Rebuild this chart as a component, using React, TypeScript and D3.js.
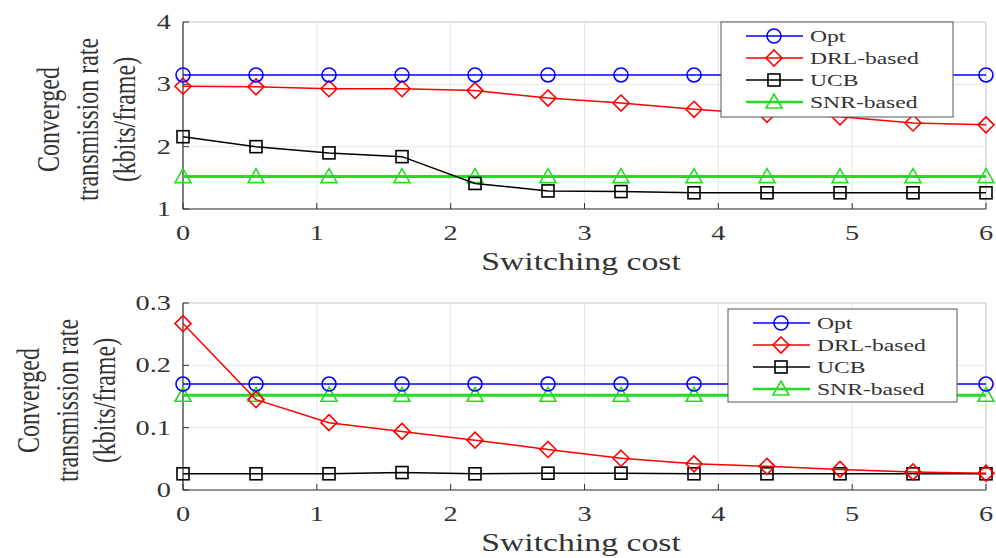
import React from "react";
import * as d3 from "d3";

const xs = d3.range(12).map((i) => (i * 6) / 11);
const seriesNames = ["Opt", "DRL-based", "UCB", "SNR-based"];
const colors = ["#0000ff", "#ff0000", "#000000", "#22dd22"];
const markers = ["circle", "diamond", "square", "triangle"];

const topOpt = [3.15, 3.15, 3.15, 3.15, 3.15, 3.15, 3.15, 3.15, 3.15, 3.15, 3.15, 3.15];
const topDRL = [2.97, 2.96, 2.93, 2.93, 2.9, 2.78, 2.7, 2.6, 2.52, 2.48, 2.38, 2.35];
const topUCB = [2.16, 2.0, 1.9, 1.84, 1.41, 1.29, 1.28, 1.26, 1.26, 1.26, 1.26, 1.26];
const topSNR = [1.52, 1.52, 1.52, 1.52, 1.52, 1.52, 1.52, 1.52, 1.52, 1.52, 1.52, 1.52];

const botOpt = [0.17, 0.17, 0.17, 0.17, 0.17, 0.17, 0.17, 0.17, 0.17, 0.17, 0.17, 0.17];
const botDRL = [0.267, 0.145, 0.108, 0.094, 0.08, 0.065, 0.051, 0.042, 0.038, 0.033, 0.029, 0.027];
const botUCB = [0.026, 0.026, 0.026, 0.028, 0.026, 0.027, 0.027, 0.026, 0.026, 0.026, 0.026, 0.026];
const botSNR = [0.152, 0.152, 0.152, 0.152, 0.152, 0.152, 0.152, 0.152, 0.152, 0.152, 0.152, 0.152];

const xTicks = [0, 1, 2, 3, 4, 5, 6];
const topYTicks = [1, 2, 3, 4];
const botYTicks = [0, 0.1, 0.2, 0.3];

const FONT = "Liberation Serif, Times New Roman, serif";
const SX = 1.35;
const TXT = "#333";

function Marker({ type, x, y, color }: { type: string; x: number; y: number; color: string }) {
  const common = { fill: "none", stroke: color, strokeWidth: 1.6 };
  if (type === "circle") return <circle cx={x} cy={y} r={7} {...common} />;
  if (type === "diamond")
    return <path d={`M${x},${y - 8}L${x + 8},${y}L${x},${y + 8}L${x - 8},${y}Z`} {...common} />;
  if (type === "square") return <rect x={x - 6} y={y - 6} width={12} height={12} {...common} />;
  return <path d={`M${x},${y - 8}L${x + 8},${y + 6}L${x - 8},${y + 6}Z`} {...common} />;
}

function SText({
  x,
  y,
  size,
  anchor,
  children,
}: {
  x: number;
  y: number;
  size: number;
  anchor: string;
  children: React.ReactNode;
}) {
  return (
    <text
      transform={`translate(${x},${y}) scale(${SX},1)`}
      textAnchor={anchor}
      fontFamily={FONT}
      fontSize={size}
      fill={TXT}
    >
      {children}
    </text>
  );
}

function Panel({
  top,
  bottom,
  yDomain,
  yTicks,
  yFmt,
  data,
  legend,
  labelX,
}: {
  top: number;
  bottom: number;
  yDomain: [number, number];
  yTicks: number[];
  yFmt: (v: number) => string;
  data: number[][];
  legend: { x: number; y: number; w: number; h: number };
  labelX: number;
}) {
  const x = d3.scaleLinear().domain([0, 6]).range([183, 986]);
  const y = d3.scaleLinear().domain(yDomain).range([bottom, top]);
  const line = d3
    .line<number>()
    .x((_, i) => x(xs[i]))
    .y((d) => y(d));
  const order = [3, 2, 1, 0];
  const midY = (top + bottom) / 2 + 4;
  return (
    <g>
      {xTicks.map((t) => (
        <line key={"gx" + t} x1={x(t)} x2={x(t)} y1={top} y2={bottom} stroke="#e6e6e6" strokeWidth={1} />
      ))}
      {yTicks.map((t) => (
        <line key={"gy" + t} x1={183} x2={986} y1={y(t)} y2={y(t)} stroke="#e6e6e6" strokeWidth={1} />
      ))}
      <line x1={183} x2={986} y1={top} y2={top} stroke="#d0d0d0" />
      <line x1={986} x2={986} y1={top} y2={bottom} stroke="#d0d0d0" />
      <line x1={183} x2={986} y1={bottom} y2={bottom} stroke="#333" strokeWidth={1.2} />
      <line x1={183} x2={183} y1={top} y2={bottom} stroke="#333" strokeWidth={1.2} />
      {xTicks.map((t) => (
        <g key={"tx" + t}>
          <line x1={x(t)} x2={x(t)} y1={bottom} y2={bottom - 6} stroke="#333" />
          <SText x={x(t)} y={bottom + 31} size={21} anchor="middle">
            {t}
          </SText>
        </g>
      ))}
      {yTicks.map((t) => (
        <g key={"ty" + t}>
          <line x1={183} x2={189} y1={y(t)} y2={y(t)} stroke="#333" />
          <SText x={171} y={y(t) + 7} size={21} anchor="end">
            {yFmt(t)}
          </SText>
        </g>
      ))}
      {order.map((s) => (
        <g key={"s" + s}>
          <path d={line(data[s]) || ""} fill="none" stroke={colors[s]} strokeWidth={s === 3 ? 3 : 1.5} />
          {data[s].map((v, i) => (
            <Marker key={i} type={markers[s]} x={x(xs[i])} y={y(v)} color={colors[s]} />
          ))}
        </g>
      ))}
      <SText x={581} y={bottom + 61} size={25} anchor="middle">
        Switching cost
      </SText>
      <g
        transform={`translate(${labelX},${midY}) scale(${SX},1) rotate(-90)`}
        fontFamily={FONT}
        fontSize={24}
        fill={TXT}
        textAnchor="middle"
      >
        <text x={0} y={29}>Converged</text>
        <text x={0} y={58}>transmission rate</text>
        <text x={0} y={85}>(kbits/frame)</text>
      </g>
      <rect x={legend.x} y={legend.y} width={legend.w} height={legend.h} fill="#fff" stroke="#555" strokeWidth={1} />
      {seriesNames.map((n, i) => {
        const ly = legend.y + 14 + i * 22;
        return (
          <g key={n}>
            <line x1={legend.x + 25} x2={legend.x + 82} y1={ly} y2={ly} stroke={colors[i]} strokeWidth={i === 3 ? 2.5 : 1.5} />
            <Marker type={markers[i]} x={legend.x + 53} y={ly} color={colors[i]} />
            <SText x={legend.x + 89} y={ly + 6} size={17.5} anchor="start">
              {n}
            </SText>
          </g>
        );
      })}
    </g>
  );
}

export default function App() {
  return (
    <svg width={996} height={558} style={{ position: "absolute", left: 0, top: 0, background: "#fff" }}>
      <rect width={996} height={558} fill="#fff" />
      <Panel
        top={22}
        bottom={209}
        yDomain={[1, 4]}
        yTicks={topYTicks}
        yFmt={(v) => String(v)}
        data={[topOpt, topDRL, topUCB, topSNR]}
        legend={{ x: 721, y: 22, w: 232, h: 95 }}
        labelX={20}
      />
      <Panel
        top={303}
        bottom={490}
        yDomain={[0, 0.3]}
        yTicks={botYTicks}
        yFmt={(v) => (v === 0 ? "0" : v.toFixed(1))}
        data={[botOpt, botDRL, botUCB, botSNR]}
        legend={{ x: 728, y: 309, w: 229, h: 93 }}
        labelX={0}
      />
    </svg>
  );
}
